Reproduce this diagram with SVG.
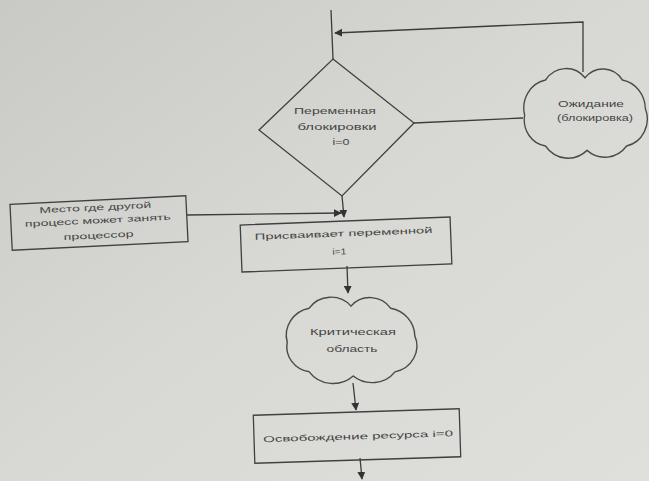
<svg xmlns="http://www.w3.org/2000/svg" width="649" height="481" viewBox="0 0 649 481">
<defs>
<linearGradient id="bg" x1="0" y1="0" x2="1" y2="1">
<stop offset="0" stop-color="#c9c9c5"/>
<stop offset="0.5" stop-color="#d8d8d4"/>
<stop offset="1" stop-color="#dfdfdb"/>
</linearGradient>
<marker id="ah" viewBox="0 0 10 10" refX="9" refY="5" markerWidth="8" markerHeight="8" markerUnits="userSpaceOnUse" orient="auto">
<path d="M0,0 L10,5 L0,10 Z" fill="#333"/>
</marker>
<path id="cloud" d="M0,-32 A22.5,22.5 0 0 1 36,-30 A27,27 0 0 1 58,-4 A25,25 0 0 1 40,30 A26.5,26.5 0 0 1 2,34 A27,27 0 0 1 -38,30 A24,24 0 0 1 -58,2 A26,26 0 0 1 -38,-30 A24,24 0 0 1 0,-32 Z"/>
</defs>
<style>
.ln{fill:none;stroke:#3c3c3c;stroke-width:1.3}
.sh{fill:none;stroke:#404040;stroke-width:1.3}
.cl{fill:none;stroke:#4a4a4a;stroke-width:1.3;vector-effect:non-scaling-stroke}
.t{font-family:"Liberation Sans",Arial,sans-serif;font-size:8.5px;fill:#454545;text-anchor:middle;dominant-baseline:middle}
</style>
<rect x="0" y="0" width="649" height="481" fill="url(#bg)"/>

<g id="connectors">
<line class="ln" x1="331" y1="10" x2="333" y2="59"/>
<polyline class="ln" points="583,72 583,22 335,33" marker-end="url(#ah)"/>
<line class="ln" x1="414" y1="123" x2="523" y2="118"/>
<line class="ln" x1="342" y1="196" x2="344" y2="217" marker-end="url(#ah)"/>
<line class="ln" x1="187" y1="215" x2="341" y2="213" marker-end="url(#ah)"/>
<line class="ln" x1="347" y1="266" x2="348" y2="293" marker-end="url(#ah)"/>
<line class="ln" x1="353" y1="383" x2="356" y2="410" marker-end="url(#ah)"/>
<line class="ln" x1="360" y1="458" x2="362" y2="479" marker-end="url(#ah)"/>
</g>

<g id="decision">
<polygon class="sh" points="333,59 414,123 342,196 259,130"/>
<text class="t" x="335" y="112" textLength="82" lengthAdjust="spacingAndGlyphs">Переменная</text>
<text class="t" x="337" y="128" textLength="79" lengthAdjust="spacingAndGlyphs">блокировки</text>
<text class="t" x="341" y="143" textLength="17" lengthAdjust="spacingAndGlyphs">i=0</text>
</g>

<g id="wait">
<use href="#cloud" class="cl" transform="translate(585,113) scale(1.04,1.1)"/>
<text class="t" x="591" y="105" textLength="66" lengthAdjust="spacingAndGlyphs">Ожидание</text>
<text class="t" x="595" y="119" textLength="76" lengthAdjust="spacingAndGlyphs">(блокировка)</text>
</g>

<g id="other" transform="rotate(-2.8,99,223)">
<rect class="sh" x="11" y="200" width="176" height="46"/>
<text class="t" x="96" y="208" textLength="112" lengthAdjust="spacingAndGlyphs">Место где другой</text>
<text class="t" x="98" y="221" textLength="146" lengthAdjust="spacingAndGlyphs">процесс может занять</text>
<text class="t" x="98" y="236" textLength="70" lengthAdjust="spacingAndGlyphs">процессор</text>
</g>

<g id="assign" transform="rotate(-2.2,346,244)">
<rect class="sh" x="241" y="221" width="210" height="47"/>
<text class="t" x="344" y="234" textLength="178" lengthAdjust="spacingAndGlyphs">Присваивает переменной</text>
<text class="t" x="339" y="252" textLength="14" lengthAdjust="spacingAndGlyphs">i=1</text>
</g>

<g id="critical">
<use href="#cloud" class="cl" transform="translate(351,340) scale(1.1,1.06)"/>
<text class="t" x="353" y="333" textLength="86" lengthAdjust="spacingAndGlyphs">Критическая</text>
<text class="t" x="352" y="350" textLength="51" lengthAdjust="spacingAndGlyphs">область</text>
</g>

<g id="release" transform="rotate(-1.8,357,436)">
<rect class="sh" x="254" y="412" width="206" height="48"/>
<text class="t" x="358" y="437" textLength="190" lengthAdjust="spacingAndGlyphs">Освобождение ресурса i=0</text>
</g>
</svg>
